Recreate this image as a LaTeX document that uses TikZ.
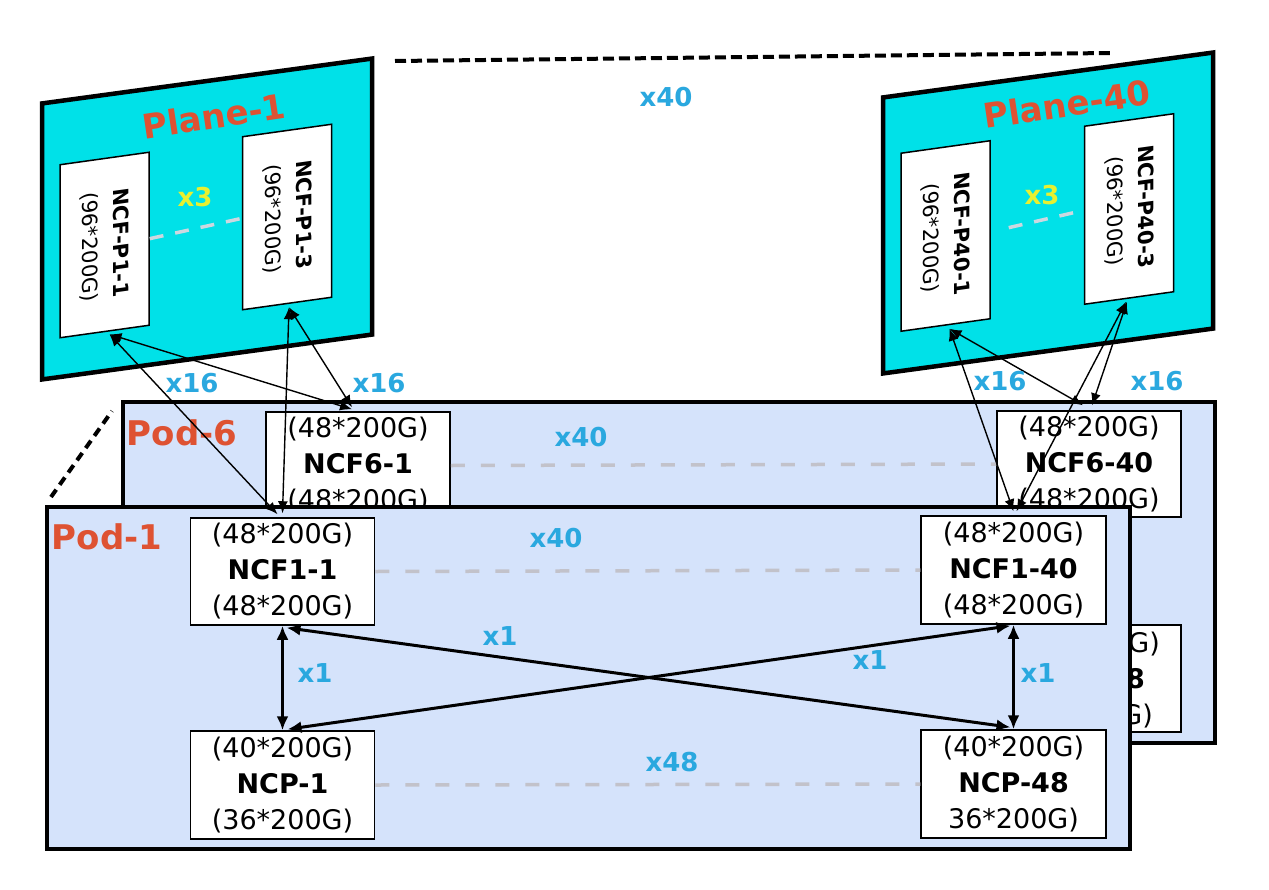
\documentclass[tikz,border=0pt]{standalone}
\usepackage{fontspec}
\setmainfont{DejaVu Sans}
\usetikzlibrary{arrows.meta,calc}
\definecolor{planecyan}{HTML}{00E1E8}
\definecolor{podblue}{HTML}{D5E3FB}
\definecolor{numblue}{HTML}{2AA8DF}
\definecolor{titlered}{HTML}{DE5232}
\definecolor{xyellow}{HTML}{E8F030}
\definecolor{dashgray}{HTML}{C2C2CA}
\definecolor{planedash}{HTML}{CCD8E0}
\begin{document}
\begin{tikzpicture}[x=1pt,y=-1pt,
  devbox/.style={draw=black,line width=1.5pt,fill=white,minimum width=184pt,minimum height=107pt,inner sep=0pt,align=center,font=\fontsize{27}{36}\selectfont},
  pbox/.style={draw=black,line width=1.5pt,fill=white,minimum height=89pt,inner sep=0pt,align=center,font=\fontsize{21}{31}\selectfont,yslant=0.14,rotate=-90},
  planebox/.style={draw=black,line width=4.5pt,fill=planecyan,minimum width=330pt,minimum height=276pt,inner sep=0pt,yslant=0.136},
  podbox/.style={draw=black,line width=4.5pt,fill=podblue,inner sep=0pt},
  numlbl/.style={text=numblue,font=\fontsize{26}{26}\selectfont\bfseries,inner sep=0pt},
  ylbl/.style={text=xyellow,font=\fontsize{26}{26}\selectfont\bfseries,inner sep=0pt},
  ttl/.style={text=titlered,font=\fontsize{34}{34}\selectfont\bfseries,inner sep=0pt},
  tailtxt/.style={inner sep=0pt,anchor=base east,font=\fontsize{27}{36}\selectfont},
  graydash/.style={draw=dashgray,line width=3.5pt,dash pattern=on 14pt off 16pt},
  pdash/.style={draw=planedash,line width=3.5pt,dash pattern=on 14pt off 12pt},
  blackdash/.style={draw=black,line width=4pt,dash pattern=on 11pt off 5pt},
  uplink/.style={draw=black,line width=1.4pt,{Latex[length=12pt,width=10pt]}-{Latex[length=12pt,width=10pt]}},
  podlink/.style={draw=black,line width=3pt,{Latex[length=14pt,width=12pt]}-{Latex[length=14pt,width=12pt]}}
]
\useasboundingbox (0,0) rectangle (1269,889);
\fill[white] (0,0) rectangle (1269,889);

% top perspective dashed line
\coordinate (tl) at (395,61);
\coordinate (tr) at (1110,53);
\draw[blackdash] (tl) -- (tr);
\node[numlbl] (x40top) at (666,97) {x40};

% Plane-1
\node[planebox] (plane1) at (207,219) {};
\node[ttl,rotate=8.5] (plane1lbl) at (214,116) {Plane-1};
\node[pbox,minimum width=173pt] (p11) at (104.5,245) {\textbf{NCF-P1-1}\\(96*200G)};
\node[pbox,minimum width=173pt] (p13) at (287,217) {\textbf{NCF-P1-3}\\(96*200G)};
\draw[pdash] (p11.north) -- ($(p13.south)+(0,-5)$);
\node[ylbl] (x3a) at (195,197) {x3};

% Plane-40
\node[planebox] (plane40) at (1048,213) {};
\node[ttl,rotate=8.5] (plane40lbl) at (1067,104) {Plane-40};
\node[pbox,minimum width=178pt] (p401) at (945.5,236) {\textbf{NCF-P40-1}\\(96*200G)};
\node[pbox,minimum width=178pt] (p403) at (1129,209) {\textbf{NCF-P40-3}\\(96*200G)};
\draw[pdash] ($(p401.north)+(18,-2)$) -- ($(p403.south)+(0,-5)$);
\node[ylbl] (x3b) at (1042,195) {x3};

% pod perspective dashed line
\coordinate (dl) at (51,497);
\coordinate (du) at (112,411);
\draw[blackdash,dash pattern=on 9pt off 6pt] (dl) -- (du);

% Pod-6
\node[podbox,minimum width=1092pt,minimum height=341pt] (pod6) at (669,572.5) {};
\node[ttl] (pod6lbl) at (182,433) {Pod-6};
\node[devbox] (ncf61) at (358,465.5) {(48*200G)\\\textbf{NCF6-1}\\(48*200G)};
\node[devbox,minimum height=106pt] (ncf640) at (1089,464) {(48*200G)\\\textbf{NCF6-40}\\(48*200G)};
\node[devbox] (ncp648) at (1089,678.5) {};
\node[tailtxt] (ncp648a) at (1160,652) {G)};
\node[tailtxt] (ncp648b) at (1145,688) {\textbf{8}};
\node[tailtxt] (ncp648c) at (1153,724) {G)};
\draw[graydash] (ncf61.east) -- (ncf640.west);
\node[numlbl] (x40p6) at (581,437) {x40};

% Pod-1
\node[podbox,minimum width=1083pt,minimum height=342pt] (pod1) at (588.5,678) {};
\node[ttl] (pod1lbl) at (107,537) {Pod-1};
\node[devbox] (ncf11) at (282.5,571.5) {(48*200G)\\\textbf{NCF1-1}\\(48*200G)};
\node[devbox,minimum height=108pt] (ncp1) at (282.5,785) {(40*200G)\\\textbf{NCP-1}\\(36*200G)};
\node[devbox,minimum width=185pt,minimum height=108pt] (ncf140) at (1013.5,570) {(48*200G)\\\textbf{NCF1-40}\\(48*200G)};
\node[devbox,minimum width=185pt,minimum height=108pt] (ncp48) at (1013.5,784) {(40*200G)\\\textbf{NCP-48}\\36*200G)};
\draw[graydash] (ncf11.east) -- (ncf140.west);
\draw[graydash] (ncp1.east) -- (ncp48.west);
\node[numlbl] (x40p1) at (556,538) {x40};
\node[numlbl] (x48) at (672,762) {x48};

% pod-internal links
\draw[podlink] (ncf11.south) -- (ncp1.north);
\draw[podlink] ($(ncf11.south)+(4,2)$) -- ($(ncp48.north)+(-3,-2)$);
\draw[podlink] ($(ncp1.north)+(5,-1)$) -- ($(ncf140.south)+(-3,1)$);
\draw[podlink] (ncf140.south) -- (ncp48.north);
\node[numlbl] (x1a) at (315,673) {x1};
\node[numlbl] (x1b) at (500,636) {x1};
\node[numlbl] (x1c) at (870,660) {x1};
\node[numlbl] (x1d) at (1038,673) {x1};

% plane-to-pod links (left)
\draw[uplink] ($(p11.east)+(5,2)$) -- ($(ncf11.north)+(-5,-3)$);
\draw[uplink] ($(p11.east)+(5,2)$) -- ($(ncf61.north)+(-6,-2)$);
\draw[uplink] ($(p13.east)+(2,3)$) -- ($(ncf11.north)+(0,-4)$);
\draw[uplink] ($(p13.east)+(2,3)$) -- ($(ncf61.north)+(-6,-4)$);
\node[numlbl] (x16a) at (192,383) {x16};
\node[numlbl] (x16b) at (379,383) {x16};

% plane-to-pod links (right)
\draw[uplink] ($(p401.east)+(4,3)$) -- ($(ncf140.north)+(0,-4)$);
\draw[uplink] ($(p401.east)+(4,3)$) -- ($(ncf640.north)+(-6,-5)$);
\draw[uplink] ($(p403.east)+(-2,3)$) -- ($(ncf640.north)+(3,-5)$);
\draw[uplink] ($(p403.east)+(-3,3)$) -- ($(ncf140.north)+(3,-4)$);
\node[numlbl] (x16c) at (1000,381) {x16};
\node[numlbl] (x16d) at (1157,381) {x16};
\end{tikzpicture}
\end{document}
